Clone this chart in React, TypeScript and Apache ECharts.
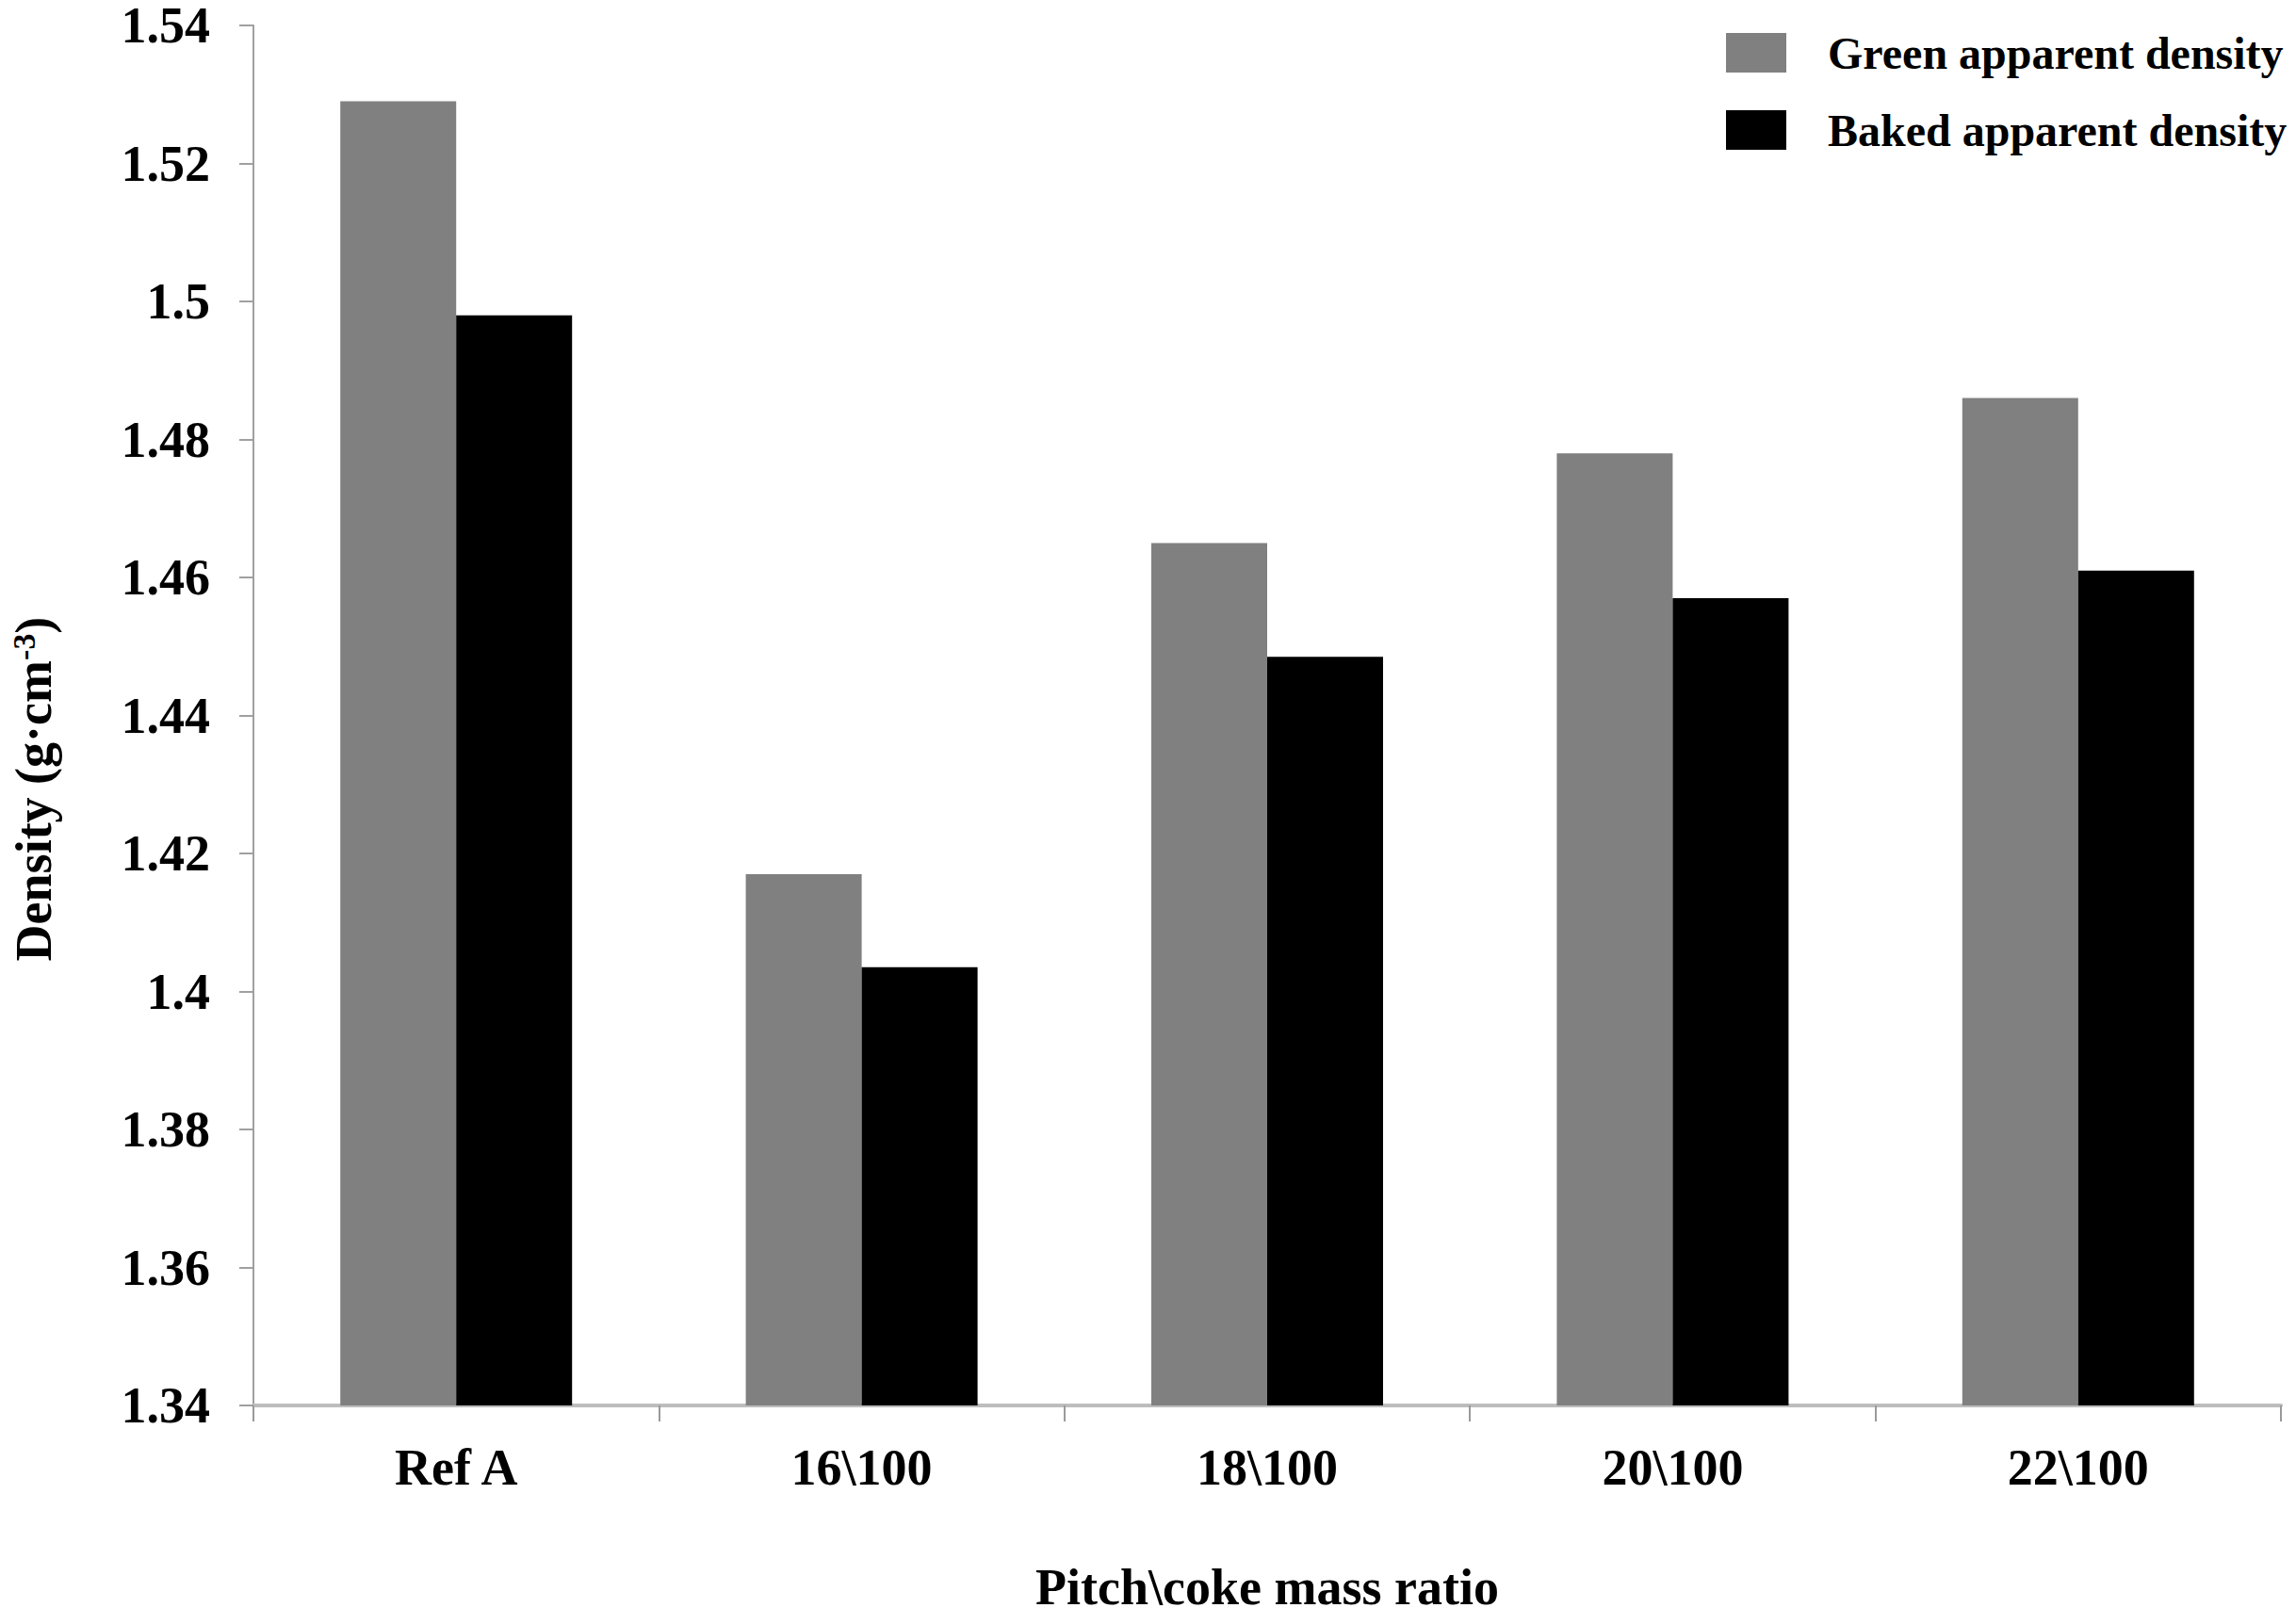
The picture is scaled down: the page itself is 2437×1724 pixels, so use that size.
import React, { useEffect, useRef } from "react";
import * as echarts from "echarts";

const categories = ["Ref A", "16\\100", "18\\100", "20\\100", "22\\100"];
const greenDensity = [1.529, 1.417, 1.465, 1.478, 1.486];
const bakedDensity = [1.498, 1.4035, 1.4485, 1.457, 1.461];
const seriesNames = ["Green apparent density", "Baked apparent density"];
const yMin = 1.34;
const yMax = 1.54;
const yStep = 0.02;

const FONT = "'Liberation Serif', 'Times New Roman', serif";

export default function App() {
  const ref = useRef<HTMLDivElement>(null);
  useEffect(() => {
    document.body.style.margin = "0";
    const chart = echarts.init(ref.current!, null, { renderer: "svg" });
    chart.setOption({
      animation: false,
      backgroundColor: "#ffffff",
      textStyle: { fontFamily: FONT, fontWeight: "bold", color: "#000" },
      grid: { left: 268, top: 24, right: 16, bottom: 232, containLabel: false },
      legend: {
        orient: "vertical",
        left: 1832,
        top: 31,
        padding: 0,
        itemWidth: 64,
        itemHeight: 42,
        itemGap: 32,
        icon: "rect",
        data: seriesNames,
        textStyle: {
          fontFamily: FONT,
          fontWeight: "bold",
          fontSize: 48,
          color: "#000",
          lineHeight: 50,
          padding: [0, 0, 0, 39],
        },
      },
      xAxis: {
        type: "category",
        data: categories,
        name: "Pitch\\coke mass ratio",
        nameLocation: "middle",
        nameGap: 166,
        nameTextStyle: { fontFamily: FONT, fontWeight: "bold", fontSize: 54, color: "#000" },
        axisLine: { lineStyle: { color: "#bdbdbd", width: 4 } },
        axisTick: { show: true, length: 17, lineStyle: { color: "#9a9a9a", width: 2 } },
        axisLabel: { fontFamily: FONT, fontWeight: "bold", fontSize: 54, color: "#000", margin: 39 },
        splitLine: { show: false },
      },
      yAxis: {
        type: "value",
        min: yMin,
        max: yMax,
        interval: yStep,
        name: "{n|Density (g·cm}{s|-3}{n|)}",
        nameLocation: "middle",
        nameGap: 205,
        nameRotate: 90,
        nameTextStyle: {
          padding: [0, 156, 0, 0],
          rich: {
            n: { fontFamily: FONT, fontWeight: "bold", fontSize: 54, color: "#000", lineHeight: 56 },
            s: { fontFamily: FONT, fontWeight: "bold", fontSize: 34, color: "#000", verticalAlign: "top", lineHeight: 56, padding: [0, 0, 22, 0] },
          },
        },
        axisLine: { show: true, lineStyle: { color: "#a0a0a0", width: 2 } },
        axisTick: { show: true, length: 15, lineStyle: { color: "#a0a0a0", width: 2 } },
        axisLabel: {
          fontFamily: FONT,
          fontWeight: "bold",
          fontSize: 54,
          lineHeight: 44,
          color: "#000",
          margin: 46,
          formatter: (v: number) => String(Number(v.toFixed(2))),
        },
        splitLine: { show: false },
      },
      series: [
        {
          name: seriesNames[0],
          type: "bar",
          data: greenDensity,
          barWidth: 123,
          barGap: "0%",
          itemStyle: { color: "#808080" },
        },
        {
          name: seriesNames[1],
          type: "bar",
          data: bakedDensity,
          barWidth: 123,
          barGap: "0%",
          itemStyle: { color: "#000000" },
        },
      ],
    });
    return () => chart.dispose();
  }, []);
  return <div ref={ref} style={{ width: 2437, height: 1724 }} />;
}
